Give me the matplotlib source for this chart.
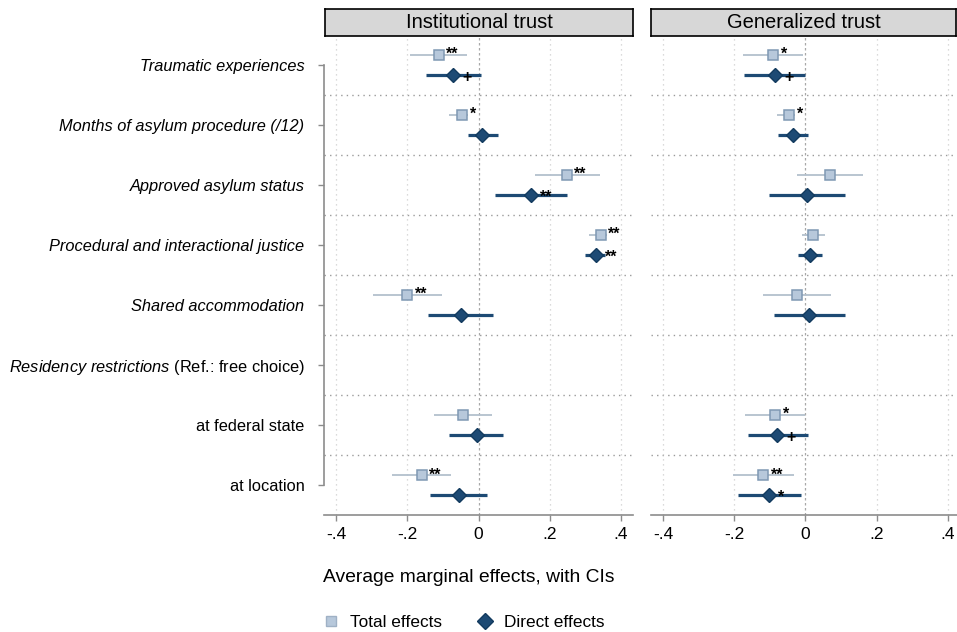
import numpy as np
import matplotlib.pyplot as plt
from matplotlib.lines import Line2D

plt.rcParams['font.family'] = ['Liberation Sans', 'DejaVu Sans']
plt.rcParams['mathtext.fontset'] = 'custom'
plt.rcParams['mathtext.rm'] = 'Liberation Sans'
plt.rcParams['mathtext.it'] = 'Liberation Sans:italic'

nan = np.nan

# Datos
labels = ["Traumatic experiences", "Months of asylum procedure (/12)",
          "Approved asylum status", "Procedural and interactional justice",
          "Shared accommodation",
          r"$\mathit{Residency\ restrictions}$ (Ref.: free choice)",
          "at federal state", "at location"]
italic_rows = [0, 1, 2, 3, 4]

inst_total = [-0.112, -0.046, 0.248, 0.344, -0.200, nan, -0.043, -0.160]
inst_total_lo = [-0.194, -0.084, 0.158, 0.310, -0.296, nan, -0.124, -0.244]
inst_total_hi = [-0.032, -0.030, 0.343, 0.362, -0.103, nan, 0.038, -0.077]
inst_total_sig = ["**", "*", "**", "**", "**", "", "", "**"]
inst_direct = [-0.072, 0.011, 0.147, 0.330, -0.050, nan, -0.005, -0.055]
inst_direct_lo = [-0.149, -0.029, 0.047, 0.300, -0.142, nan, -0.082, -0.137]
inst_direct_hi = [0.006, 0.054, 0.249, 0.355, 0.040, nan, 0.070, 0.025]
inst_direct_sig = ["+", "", "**", "**", "", "", "", ""]

gen_total = [-0.091, -0.046, 0.070, 0.022, -0.024, nan, -0.086, -0.119]
gen_total_lo = [-0.175, -0.081, -0.024, -0.010, -0.120, nan, -0.170, -0.203]
gen_total_hi = [-0.008, -0.030, 0.161, 0.054, 0.072, nan, -0.002, -0.032]
gen_total_sig = ["*", "*", "", "", "", "", "*", "**"]
gen_direct = [-0.086, -0.035, 0.003, 0.013, 0.010, nan, -0.079, -0.103]
gen_direct_lo = [-0.173, -0.078, -0.104, -0.020, -0.088, nan, -0.163, -0.191]
gen_direct_hi = [-0.001, 0.008, 0.110, 0.047, 0.110, nan, 0.006, -0.014]
gen_direct_sig = ["+", "", "", "", "", "", "+", "*"]

xticks = [-0.4, -0.2, 0, 0.2, 0.4]
xticklabels = ["-.4", "-.2", "0", ".2", ".4"]

# colores
c_tot_fill = "#b7c8db"
c_tot_edge = "#7f98b3"
c_tot_ci = "#b3c0cd"
c_dir = "#1d4a74"
c_dir_edge = "#123a5e"
c_axis = "#8c8c8c"

W, H = 957, 632


def fx(px):
    return px / W


def fy(py):
    return 1 - py / H


fig = plt.figure(figsize=(W / 100, H / 100), dpi=100)


def panel(ax, title, strip_rect, total, tlo, thi, tsig, direct, dlo, dhi, dsig, first):
    y = np.arange(len(labels))
    off = 0.17
    ax.set_xlim(-0.435, 0.435)
    ax.set_ylim(7.5, -0.48)

    # lineas de separacion y grilla
    for s in np.arange(0.5, 7, 1):
        ax.axhline(s, color="#9a9a9a", lw=1, ls=(0, (1, 3)), zorder=0)
    for v in [-0.4, -0.2, 0.2, 0.4]:
        ax.axvline(v, color="#cfcfcf", lw=0.9, ls=(0, (1, 3)), zorder=0)
    ax.axvline(0, color="#a8a8a8", lw=0.9, ls=(0, (2, 2)), zorder=0)

    # efectos totales
    ax.hlines(y - off, tlo, thi, color=c_tot_ci, lw=1.3, zorder=2)
    ax.plot(total, y - off, "s", ms=7.5, mfc=c_tot_fill, mec=c_tot_edge, mew=1.1,
            ls="none", zorder=3)
    # efectos directos
    ax.hlines(y + off, dlo, dhi, color=c_dir, lw=2.3, zorder=2)
    ax.plot(direct, y + off, "D", ms=7.5, mfc=c_dir, mec=c_dir_edge, mew=1,
            ls="none", zorder=3)

    for i in range(len(labels)):
        if tsig[i]:
            ax.annotate(tsig[i], (total[i], y[i] - off), xytext=(5.5, 0),
                        textcoords="offset points", ha="left", va="center",
                        fontsize=11.5, fontweight="bold", zorder=4)
        if dsig[i]:
            ax.annotate(dsig[i], (direct[i], y[i] + off), xytext=(6.5, -1.5),
                        textcoords="offset points", ha="left", va="center",
                        fontsize=11.5, fontweight="bold", zorder=4)

    ax.spines[["top", "right"]].set_visible(False)
    ax.spines["bottom"].set_color(c_axis)
    ax.spines["bottom"].set_linewidth(1.2)
    ax.set_xticks(xticks)
    ax.set_xticklabels(xticklabels)
    ax.tick_params(axis="x", length=4.5, width=1, color=c_axis, labelsize=12.5, pad=4)

    if first:
        ax.spines["left"].set_color(c_axis)
        ax.spines["left"].set_linewidth(1.2)
        ax.spines["left"].set_bounds(0, 7)
        ax.set_yticks(y)
        ax.set_yticklabels(labels)
        for i, t in enumerate(ax.get_yticklabels()):
            if i in italic_rows:
                t.set_fontstyle("italic")
        ax.tick_params(axis="y", length=4, width=1, color=c_axis, labelsize=11.8, pad=10)
    else:
        ax.spines["left"].set_visible(False)
        ax.set_yticks([])

    sax = fig.add_axes(strip_rect)
    sax.set_facecolor("#d7d7d7")
    sax.set_xticks([])
    sax.set_yticks([])
    for sp in sax.spines.values():
        sp.set_color("black")
        sp.set_linewidth(1.2)
    sax.text(0.5, 0.5, title, ha="center", va="center", fontsize=14.5)


ax_l = fig.add_axes([fx(324), fy(515), 309 / W, (515 - 36) / H])
ax_r = fig.add_axes([fx(651), fy(515), 309 / W, (515 - 36) / H])

panel(ax_l, "Institutional trust", [fx(325), fy(35.5), 308 / W, 27 / H],
      inst_total, inst_total_lo, inst_total_hi, inst_total_sig,
      inst_direct, inst_direct_lo, inst_direct_hi, inst_direct_sig, True)
panel(ax_r, "Generalized trust", [fx(651), fy(35.5), 305 / W, 27 / H],
      gen_total, gen_total_lo, gen_total_hi, gen_total_sig,
      gen_direct, gen_direct_lo, gen_direct_hi, gen_direct_sig, False)

fig.text(fx(323), fy(578), "Average marginal effects, with CIs",
         fontsize=13.9, va="center", ha="left")

handles = [
    Line2D([], [], marker="s", ls="none", ms=7.5, mfc=c_tot_fill, mec="#9fb1c5", mew=1),
    Line2D([], [], marker="D", ls="none", ms=8, mfc=c_dir, mec=c_dir_edge, mew=1),
]
fig.legend(handles, ["Total effects", "Direct effects"], loc="center left",
           bbox_to_anchor=(fx(322), fy(622)), frameon=False, ncol=2,
           fontsize=12.4, handlelength=1.0, handletextpad=0.6,
           columnspacing=2.0, borderpad=0, borderaxespad=0)

fig.savefig("out.png", dpi=100)
